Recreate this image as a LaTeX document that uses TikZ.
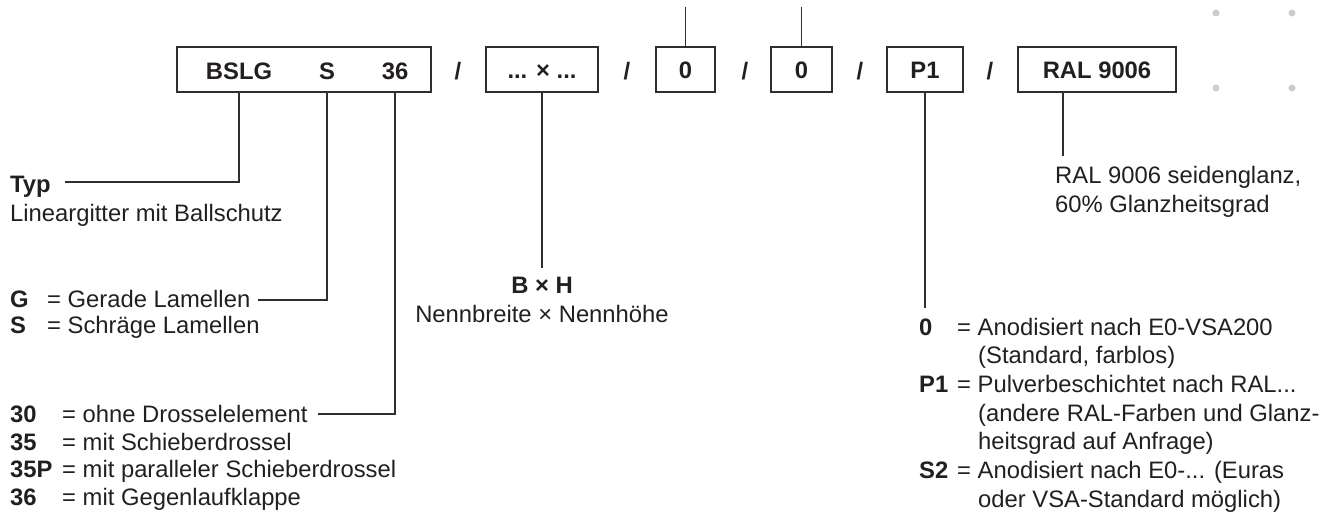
\documentclass[tikz,border=0pt]{standalone}
\usepackage{fontspec}
\setmainfont{Liberation Sans}
\definecolor{txt}{HTML}{231F20}
\definecolor{ln}{HTML}{2E2E2E}
\definecolor{dotc}{HTML}{CCCCCC}
\tikzset{
  code/.style={font=\bfseries, text=txt, inner sep=0pt},
  lbl/.style={text=txt, inner sep=0pt, anchor=base west},
  codebox/.style={draw=ln, line width=1.3pt, minimum height=45pt, inner sep=0pt,
    text height=17pt, text depth=0pt, font=\bfseries, text=txt},
  conn/.style={draw=ln, line width=1.2pt},
  dotmark/.style={fill=dotc, draw=none},
}
\begin{document}
\begin{tikzpicture}[x=1pt,y=-1pt]
\fontsize{23.8pt}{28pt}\selectfont
\useasboundingbox (0,0) rectangle (1328,515);

% ---- code boxes ----
\node[codebox, minimum width=254pt] (box1) at (304,69.5) {};
\node[code, anchor=base] (tB)  at (239,79) {BSLG};
\node[code, anchor=base] (tS)  at (327,79) {S};
\node[code, anchor=base] (t36) at (395,79) {36};
\node[code, anchor=base] (sl1) at (458,79) {/};
\node[codebox, minimum width=112pt] (box2) at (542,69.5) {... × ...};
\node[code, anchor=base] (sl2) at (627,79) {/};
\node[codebox, minimum width=59pt] (box3) at (685.5,69.5) {0};
\node[code, anchor=base] (sl3) at (745,79) {/};
\node[codebox, minimum width=61pt] (box4) at (801.5,69.5) {0};
\node[code, anchor=base] (sl4) at (860,79) {/};
\node[codebox, minimum width=76pt] (box5) at (925,69.5) {P1};
\node[code, anchor=base] (sl5) at (990,79) {/};
\node[codebox, minimum width=158pt] (box6) at (1097,69.5) {RAL 9006};

% ---- free ends ----
\coordinate (topend) at (0,7);
\coordinate (cTyp) at (65,182);
\coordinate (cG) at (258,300);
\coordinate (c30) at (318,414);
\coordinate (cBH) at (542,268);
\coordinate (cP1) at (925,308);
\coordinate (cRAL) at (1063,156);

% ---- left labels ----
\node[lbl, font=\bfseries] (typ) at (10,192) {Typ};
\node[lbl] (typd) at (10,221) {Lineargitter mit Ballschutz};

\node[lbl, font=\bfseries] (kG) at (10,307) {G};
\node[lbl] (eG) at (47,307) {= Gerade Lamellen};
\node[lbl, font=\bfseries] (kS) at (10,333) {S};
\node[lbl] (eS) at (47,333) {= Schräge Lamellen};

\node[lbl, font=\bfseries] (k30) at (10,422) {30};
\node[lbl] (e30) at (62,422) {= ohne Drosselelement};
\node[lbl, font=\bfseries] (k35) at (10,450) {35};
\node[lbl] (e35) at (62,450) {= mit Schieberdrossel};
\node[lbl, font=\bfseries] (k35P) at (10,477) {35P};
\node[lbl] (e35P) at (62,477) {= mit paralleler Schieberdrossel};
\node[lbl, font=\bfseries] (k36) at (10,505) {36};
\node[lbl] (e36) at (62,505) {= mit Gegenlaufklappe};

% ---- middle label ----
\node[code, anchor=base] (bh) at (542,293) {B × H};
\node[text=txt, inner sep=0pt, anchor=base] (bhd) at (542,322) {Nennbreite × Nennhöhe};

% ---- right labels ----
\node[lbl] (ral1) at (1055,183) {RAL 9006 seidenglanz,};
\node[lbl] (ral2) at (1055,212) {60\% Glanzheitsgrad};

\node[lbl, font=\bfseries] (k0) at (919,335) {0};
\node[lbl] (e0) at (957,335) {= Anodisiert nach E0-VSA200};
\node[lbl] (e0b) at (978,363) {(Standard, farblos)};
\node[lbl, font=\bfseries] (kP1) at (919,392) {P1};
\node[lbl] (eP1) at (957,392) {= Pulverbeschichtet nach RAL...};
\node[lbl] (eP1b) at (978,421) {(andere RAL-Farben und Glanz-};
\node[lbl] (eP1c) at (978,449) {heitsgrad auf Anfrage)};
\node[lbl, font=\bfseries] (kS2) at (919,478) {S2};
\node[lbl] (eS2) at (957,478) {= Anodisiert nach E0-... (Euras};
\node[lbl] (eS2b) at (978,507) {oder VSA-Standard möglich)};

% ---- connectors ----
\draw[conn] (tB |- box1.south) |- (cTyp);
\draw[conn] (tS |- box1.south) |- (cG);
\draw[conn] (t36 |- box1.south) |- (c30);
\draw[conn] (box2.south) -- (box2.south |- cBH);
\draw[conn] (box3.north) -- (box3.north |- topend);
\draw[conn] (box4.north) -- (box4.north |- topend);
\draw[conn] (box5.south) -- (box5.south |- cP1);
\draw[conn] (cRAL |- box6.south) -- (cRAL);

% ---- decorative dots ----
\fill[dotmark] (1216,13) circle (3.5);
\fill[dotmark] (1292,13) circle (3.5);
\fill[dotmark] (1216,88) circle (3.5);
\fill[dotmark] (1292,88) circle (3.5);
\end{tikzpicture}
\end{document}
